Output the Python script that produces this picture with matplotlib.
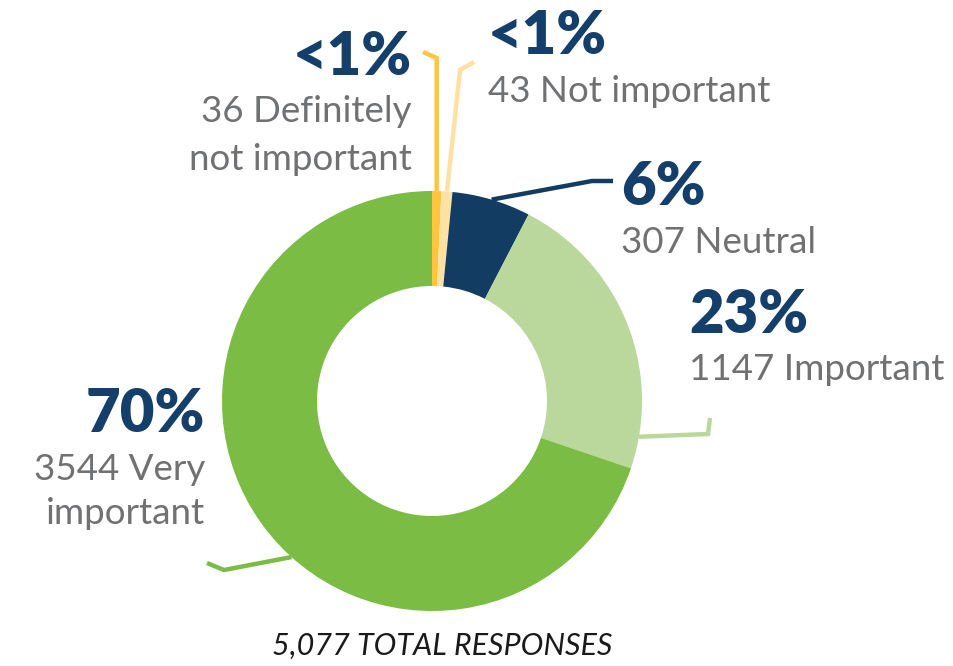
import matplotlib
matplotlib.use("Agg")
import matplotlib.pyplot as plt
import numpy as np

# survey answers, clockwise from 12 o'clock
labels = ["Definitely\nnot important", "Not important", "Neutral", "Important", "Very\nimportant"]
counts = [36, 43, 307, 1147, 3544]
pcts = ["<1%", "<1%", "6%", "23%", "70%"]
colors = ["#FFC53F", "#FFE1A3", "#133C63", "#BAD89C", "#7BBC44"]
total_label = "5,077 TOTAL RESPONSES"

W, H = 954, 666
NAVY = "#143F6B"
GRAY = "#707173"

fig = plt.figure(figsize=(W / 100, H / 100), dpi=100)
ax = fig.add_axes([0, 0, 1, 1])

cx, cy, R = 432, H - 401, 210
wedges, _ = ax.pie(counts, colors=colors, startangle=90, counterclock=False,
                   center=(cx, cy), radius=R,
                   wedgeprops=dict(width=95, linewidth=0))
ax.set_xlim(0, W)
ax.set_ylim(0, H)
ax.set_aspect("equal")
ax.axis("off")


def edge(angle_from_top):
    a = np.deg2rad(angle_from_top)
    return cx + R * np.sin(a), cy + R * np.cos(a)


# leader lines: anchor angle on the ring, then elbow points (pixel coords, y from top)
cum = np.cumsum([0] + counts) / sum(counts) * 360
mids = (cum[:-1] + cum[1:]) / 2
anchors = [mids[0], mids[1], mids[2], 99.8, 222.0]
elbows = [
    [(None, 58), (423, 52)],
    [(460, 70), (474, 62)],
    [(592, 181), (613, 181)],
    [(708, 434), (710, 418)],
    [(224, 570), (207, 563)],
]
for ang, pts, col in zip(anchors, elbows, colors):
    x0, y0 = edge(ang)
    xs, ys = [x0], [y0]
    for px, py in pts:
        xs.append(x0 if px is None else px)
        ys.append(H - py)
    ax.plot(xs, ys, color=col, lw=3.2, solid_capstyle="butt", solid_joinstyle="miter", zorder=0)

# label positions: (x, pct baseline, ha, line baselines)
lab_pos = [
    (412, 75, "right", [122, 170]),
    (488, 54, "left", [102]),
    (621, 205, "left", [253]),
    (689, 333, "left", [380]),
    (205, 432, "right", [480, 524]),
]
for (x, pb, ha, lbs), n, lab, p in zip(lab_pos, counts, labels, pcts):
    ax.text(x, H - pb, p, ha=ha, va="baseline", fontsize=43, fontweight="heavy",
            color=NAVY, family="Lato")
    lines = (f"{n} " + lab).split("\n")
    for ln, b in zip(lines, lbs):
        ax.text(x, H - b, ln, ha=ha, va="baseline", fontsize=26.5, fontweight="normal",
                color=GRAY, family="Lato")

ax.text(442, H - 655, total_label, ha="center", va="baseline", fontsize=22,
        style="italic", color="#1A1A1A", family="Lato")

fig.savefig("out.png", dpi=100)
